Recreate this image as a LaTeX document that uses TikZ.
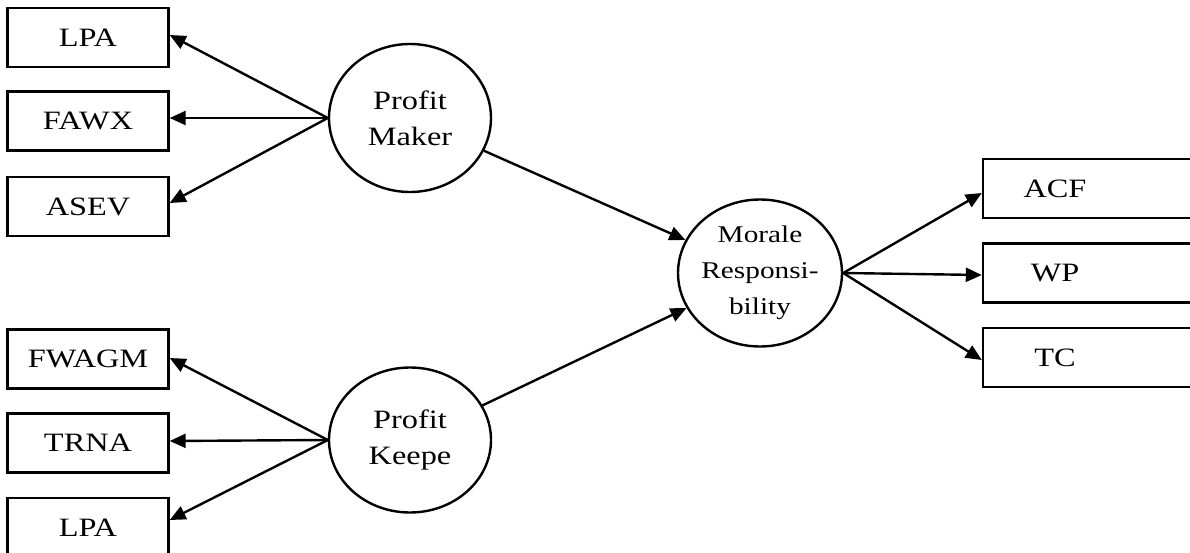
\documentclass[tikz,border=0pt]{standalone}
\usepackage{fontspec}
\setmainfont[FakeStretch=1.22]{Liberation Serif}
\usetikzlibrary{shapes.geometric,arrows.meta}
\begin{document}
\begin{tikzpicture}[x=1pt,y=-1pt,
  every node/.style={font=\fontsize{26.5}{36}\selectfont},
  box/.style={draw,line width=2.4pt,rectangle,minimum width=161pt,minimum height=59pt,inner sep=0pt},
  rbox/.style={draw,line width=2.4pt,rectangle,minimum width=217pt,minimum height=59pt,inner sep=0pt},
  lat/.style={draw,line width=2.4pt,ellipse,inner sep=-15pt,align=center},
  arr/.style={line width=2.4pt,-{Triangle[length=16pt,width=14pt]}}]
\useasboundingbox (0,0) rectangle (1190,553);
\clip (0,0) rectangle (1190,553);
\node[box] (lpa1) at (88,37.5) {LPA};
\node[box] (fawx) at (88,121) {FAWX};
\node[box] (asev) at (88,206.5) {ASEV};
\node[box] (fwagm) at (88,359) {FWAGM};
\node[box] (trna) at (88,443) {TRNA};
\node[box] (lpa2) at (88,527.5) {LPA};
\node[lat,minimum width=162pt,minimum height=148pt] (pm) at (410,118) {Profit\\Maker};
\node[lat,minimum width=162pt,minimum height=145pt] (pk) at (410,440) {Profit\\Keepe};
\node[lat,minimum width=164pt,minimum height=147pt,font=\fontsize{24}{36}\selectfont] (mr) at (760,273) {Morale\\Responsi-\\bility};
\node[rbox,label={[xshift=-36.5pt]center:ACF}] (acf) at (1091.5,188.5) {};
\node[rbox,label={[xshift=-36.5pt]center:WP}] (wp) at (1091.5,273) {};
\node[rbox,label={[xshift=-36.5pt]center:TC}] (tc) at (1091.5,357.5) {};
\draw[arr] (pm.west) -- ([yshift=2.5pt]lpa1.east);
\draw[arr] (pm.west) -- ([yshift=3pt]fawx.east);
\draw[arr] (pm.west) -- ([yshift=3.5pt]asev.east);
\draw[arr] (pk.west) -- ([yshift=1pt]fwagm.east);
\draw[arr] (pk.west) -- ([yshift=2pt]trna.east);
\draw[arr] (pk.west) -- ([yshift=7.5pt]lpa2.east);
\draw[arr] (pm) -- (mr);
\draw[arr] (pk) -- (mr);
\draw[arr] (mr.east) -- ([yshift=-4.5pt]acf.west);
\draw[arr] (mr.east) -- ([yshift=-2pt]wp.west);
\draw[arr] (mr.east) -- ([yshift=-2.5pt]tc.west);
\end{tikzpicture}
\end{document}
